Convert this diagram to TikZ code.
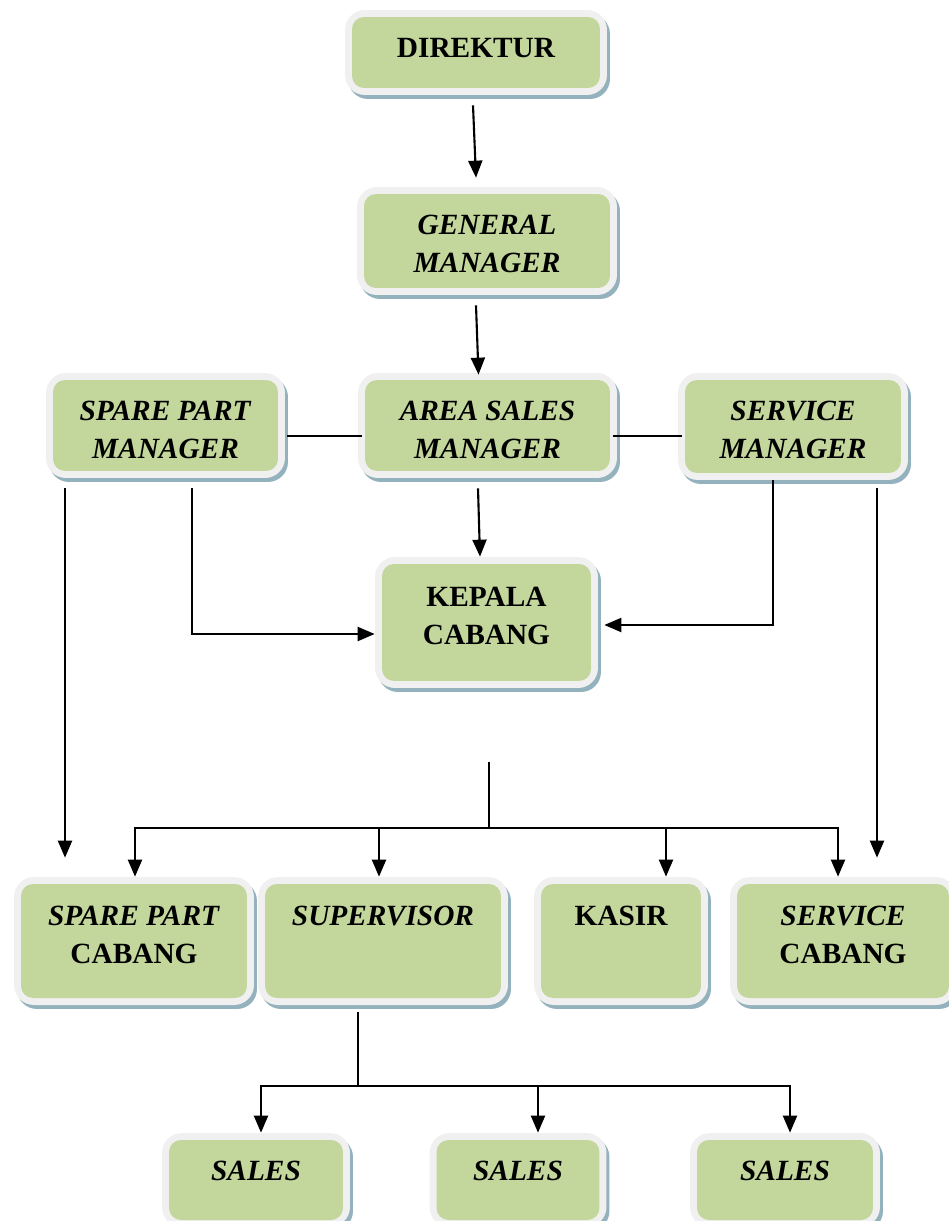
\documentclass[tikz,border=0pt]{standalone}
\usepackage{fontspec}
\setmainfont{Liberation Serif}
\usetikzlibrary{positioning}
\usetikzlibrary{shadows}
\usetikzlibrary{arrows.meta}
\definecolor{boxgreen}{RGB}{195,214,155}
\definecolor{boxrim}{RGB}{240,240,240}
\definecolor{boxshade}{RGB}{148,178,189}
\tikzset{
  orgbox/.style         = { rectangle, rounded corners=4mm, fill=boxrim, inner sep=0pt,
                            drop shadow={shadow xshift=0.6mm, shadow yshift=-0.8mm,
                                         fill=boxshade, opacity=1},
                            path picture={\fill[boxgreen, rounded corners=2.4mm]
                              ([shift={(1.4mm,-1.4mm)}]path picture bounding box.north west) rectangle
                              ([shift={(-1.4mm,1.4mm)}]path picture bounding box.south east);} },
  title/.style          = { inner sep=0pt, align=center,
                            font=\bfseries\fontsize{16.7}{21.6}\selectfont },
}
\tikzset{
  relation/.style       = { line width=1.2pt, draw=black },
  dependency/.style     = { relation, -{Triangle[length=3.4mm,width=2.8mm]} }
}

\begin{document}
\begin{tikzpicture}[x=0.02cm, y=-0.02cm]
  \useasboundingbox (0,0) rectangle (949,1221);

  % boxes
  \node (direktur)   [orgbox, minimum width=5.24cm, minimum height=1.70cm] at (476,52.5)  {};
  \node (gm)         [orgbox, minimum width=5.20cm, minimum height=2.16cm] at (487,241)   {};
  \node (spm)        [orgbox, minimum width=4.78cm, minimum height=2.10cm] at (165.5,425.5) {};
  \node (asm)        [orgbox, minimum width=5.18cm, minimum height=2.10cm] at (487.5,425.5) {};
  \node (svm)        [orgbox, minimum width=4.60cm, minimum height=2.14cm] at (793,426.5) {};
  \node (kepala)     [orgbox, minimum width=4.46cm, minimum height=2.62cm] at (486.5,622.5) {};
  \node (spc)        [orgbox, minimum width=4.80cm, minimum height=2.56cm] at (134,941)   {};
  \node (supervisor) [orgbox, minimum width=5.00cm, minimum height=2.56cm] at (383,941)   {};
  \node (kasir)      [orgbox, minimum width=3.48cm, minimum height=2.56cm] at (621,941)   {};
  \node (svc)        [orgbox, minimum width=4.52cm, minimum height=2.56cm] at (843,941)   {};
  \node (sales1)     [orgbox, minimum width=3.76cm, minimum height=1.88cm] at (256,1180)  {};
  \node (sales2)     [orgbox, minimum width=3.54cm, minimum height=1.88cm] at (518,1180)  {};
  \node (sales3)     [orgbox, minimum width=3.80cm, minimum height=1.88cm] at (785,1180)  {};

  % texts
  \node (direkturtext) [title, below=5.6mm of direktur.north] {DIREKTUR};
  \node (gmtext)       [title, below=5.6mm of gm.north] {\textit{GENERAL}\\\textit{MANAGER}};
  \begin{scope}
    \clip (0,0) rectangle (949,458);
    \node (spmtext) [title, below=5.6mm of spm.north] {\textit{SPARE PART}\\\textit{MANAGER}};
    \node (asmtext) [title, below=5.6mm of asm.north] {\textit{AREA SALES}\\\textit{MANAGER}};
    \node (svmtext) [title, below=5.6mm of svm.north] {\textit{SERVICE}\\\textit{MANAGER}};
  \end{scope}
  \node (kepalatext)   [title, below=6mm of kepala.north] {KEPALA\\CABANG};
  \node (spctext)      [title, below=5.8mm of spc.north] {\textit{SPARE PART}\\CABANG};
  \node (suptext)      [title, below=5.8mm of supervisor.north] {\textit{SUPERVISOR}};
  \node (kasirtext)    [title, below=5.8mm of kasir.north] {KASIR};
  \node (svctext)      [title, below=5.8mm of svc.north] {\textit{SERVICE}\\CABANG};
  \node (sales1text)   [title, below=5.6mm of sales1.north] {\textit{SALES}};
  \node (sales2text)   [title, below=5.6mm of sales2.north] {\textit{SALES}};
  \node (sales3text)   [title, below=5.6mm of sales3.north] {\textit{SALES}};

  % connectors
  \draw [dependency] ([shift={(-3,10)}]direktur.south) -- ([shift={(-11,-9)}]gm.north);
  \draw [dependency] ([shift={(-11,10)}]gm.south) -- ([shift={(-9,2)}]asm.north);
  \draw [relation]   ([shift={(2,10.5)}]spm.east) -- ([shift={(4,10.5)}]asm.west);
  \draw [relation]   ([shift={(-4,10.5)}]asm.east) -- ([shift={(4,9.5)}]svm.west);
  \draw [dependency] ([shift={(-100.5,10)}]spm.south) -- ([shift={(-69,-19)}]spc.north);
  \draw [dependency] ([shift={(26.5,10)}]spm.south) |- ([shift={(0,11.5)}]kepala.west);
  \draw [dependency] ([shift={(-9.5,10)}]asm.south) -- ([shift={(-6.5,0)}]kepala.north);
  \draw [dependency] ([shift={(-20,0)}]svm.south) |- ([shift={(6,2.5)}]kepala.east);
  \draw [dependency] ([shift={(84,8)}]svm.south) -- ([shift={(34,-19)}]svc.north);

  \coordinate (kcbus) at ([shift={(2.5,140)}]kepala.south);
  \draw [relation] ([shift={(2.5,74)}]kepala.south) -- (kcbus);
  \foreach \child/\dx in {spc/1, supervisor/-4, kasir/45, svc/-5}
    \draw [dependency] (kcbus) -| ([shift={(\dx,0)}]\child.north);

  \coordinate (supbus) at ([shift={(-25,81)}]supervisor.south);
  \draw [relation] ([shift={(-25,7)}]supervisor.south) -- (supbus);
  \foreach \child/\dx in {sales1/5, sales2/20, sales3/5}
    \draw [dependency] (supbus) -| ([shift={(\dx,0)}]\child.north);
\end{tikzpicture}
\end{document}
